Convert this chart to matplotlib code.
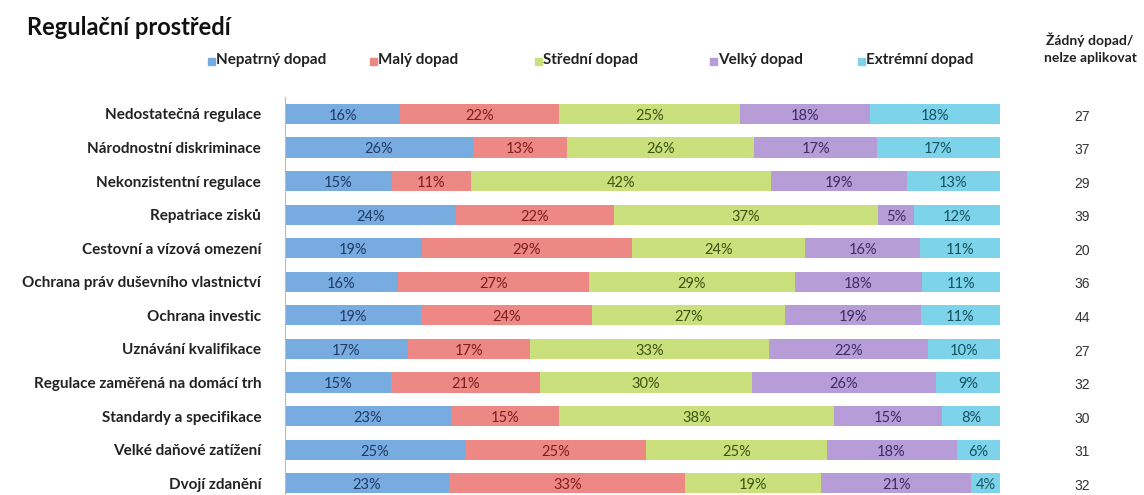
import numpy as np
import matplotlib
matplotlib.use('Agg')
import matplotlib.pyplot as plt

plt.rcParams['font.family'] = ['Lato', 'DejaVu Sans']

CATEGORIES = ['Nedostatečná regulace', 'Národnostní diskriminace', 'Nekonzistentní regulace',
              'Repatriace zisků', 'Cestovní a vízová omezení', 'Ochrana práv duševního vlastnictví',
              'Ochrana investic', 'Uznávání kvalifikace', 'Regulace zaměřená na domácí trh',
              'Standardy a specifikace', 'Velké daňové zatížení', 'Dvojí zdanění']
SERIES = ['Nepatrný dopad', 'Malý dopad', 'Střední dopad', 'Velký dopad', 'Extrémní dopad']
NEPATRNY = [16, 26, 15, 24, 19, 16, 19, 17, 15, 23, 25, 23]
MALY = [22, 13, 11, 22, 29, 27, 24, 17, 21, 15, 25, 33]
STREDNI = [25, 26, 42, 37, 24, 29, 27, 33, 30, 38, 25, 19]
VELKY = [18, 17, 19, 5, 16, 18, 19, 22, 26, 15, 18, 21]
EXTREMNI = [18, 17, 13, 12, 11, 11, 11, 10, 9, 8, 6, 4]
ZADNY = [27, 37, 29, 39, 20, 36, 44, 27, 32, 30, 31, 32]

COLORS = ['#78abe0', '#ee8884', '#c9e07c', '#b69dd7', '#7dd4ea']
TEXT_COLORS = ['#1f3a66', '#7a1f1f', '#3d5214', '#3f2a63', '#15505f']

values = np.array([NEPATRNY, MALY, STREDNI, VELKY, EXTREMNI], dtype=float)
# each row fills the full width
shares = values / values.sum(axis=0) * 100

fig = plt.figure(figsize=(11.44, 4.95), dpi=100)
ax = fig.add_axes([0.249, -0.0101, 0.625, 0.814])

y = np.arange(len(CATEGORIES))
left = np.zeros(len(CATEGORIES))
for i in range(len(SERIES)):
    ax.barh(y, shares[i], left=left, height=0.6, color=COLORS[i], edgecolor='none')
    for j in range(len(CATEGORIES)):
        ax.text(left[j] + shares[i][j] / 2, y[j] + 0.06, f'{int(values[i][j])}%',
                ha='center', va='center', fontsize=10.5, color=TEXT_COLORS[i])
    left += shares[i]

ax.set_xlim(0, 100)
ax.set_ylim(11.5, -0.5)
ax.set_yticks(y)
ax.set_yticklabels(CATEGORIES, fontsize=11, fontweight='bold', color='#222222')
ax.tick_params(axis='y', length=0, pad=17)
ax.set_xticks([])
for s in ['top', 'right', 'bottom']:
    ax.spines[s].set_visible(False)
ax.spines['left'].set_color('#bbbbbb')

# right column with counts
for j in range(len(CATEGORIES)):
    ax.text(1.115, y[j] + 0.08, str(ZADNY[j]), transform=ax.get_yaxis_transform(),
            ha='center', va='center', fontsize=10, color='#333333', family='Liberation Sans')
fig.text(1090 / 1144, 0.919, 'Žádný dopad/', ha='center', va='center', fontsize=10,
         fontweight='bold', color='#222222')
fig.text(1090 / 1144, 0.882, 'nelze aplikovat', ha='center', va='center', fontsize=10,
         fontweight='bold', color='#222222')

# legend
legend_x = [208, 370, 535, 710, 858]
for i, name in enumerate(SERIES):
    fx = legend_x[i] / 1144
    fig.patches.append(plt.Rectangle((fx, 0.868), 7 / 1144, 7 / 495, transform=fig.transFigure,
                                     color=COLORS[i], figure=fig))
    fig.text(fx + 8 / 1144, 0.879, name, ha='left', va='center', fontsize=11, fontweight='bold',
             color='#222222')

fig.text(27 / 1144, 0.945, 'Regulační prostředí', ha='left', va='center', fontsize=17,
         fontweight='bold', color='#111111')

fig.savefig('out.png', dpi=100)
